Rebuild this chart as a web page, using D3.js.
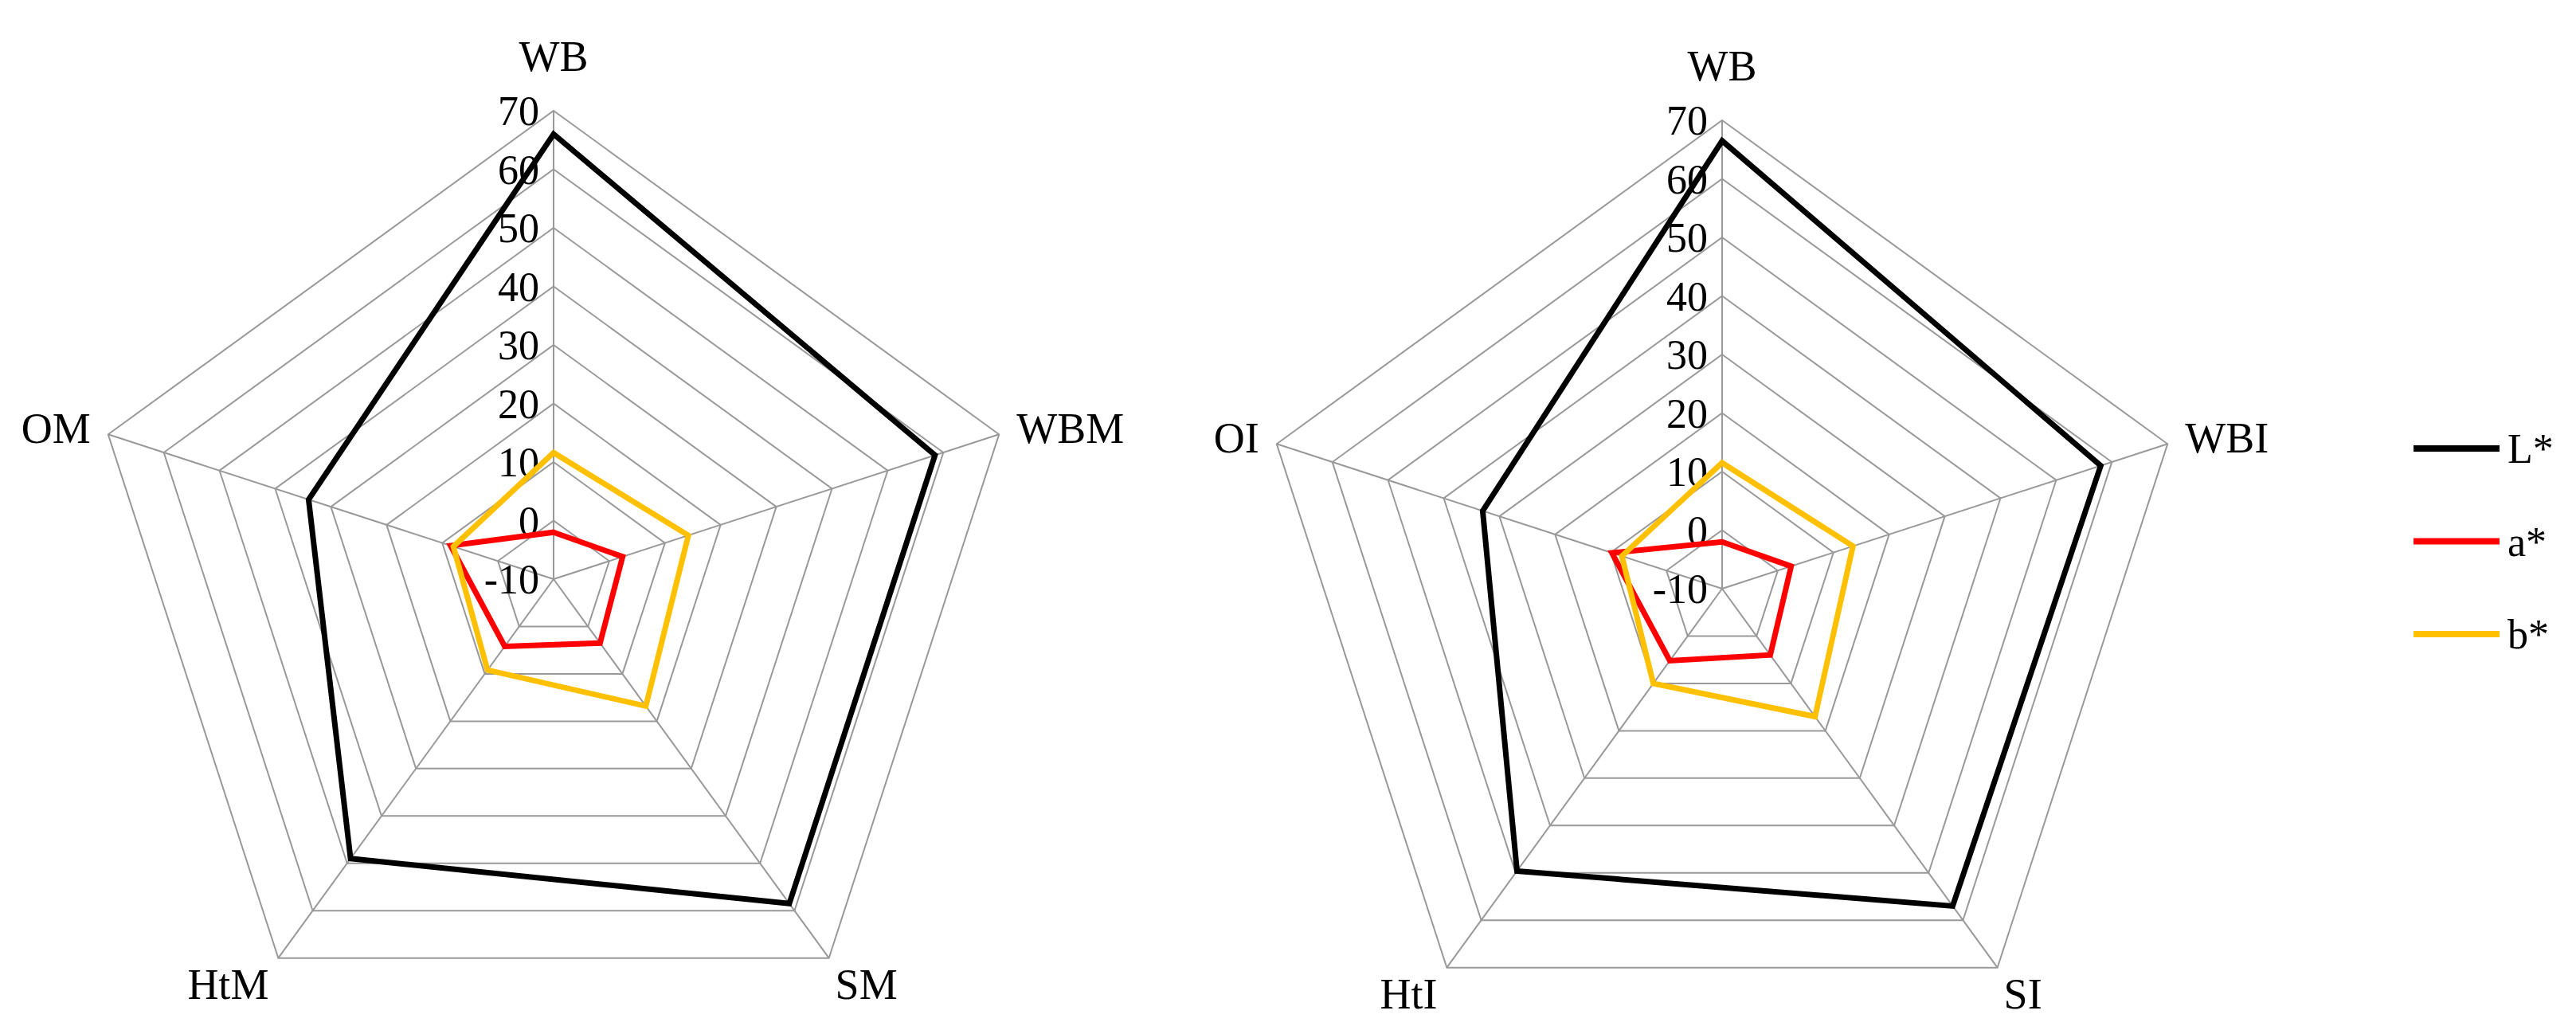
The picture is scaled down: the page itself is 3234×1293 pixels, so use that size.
<!DOCTYPE html>
<html>
<head>
<meta charset="utf-8">
<script src="https://cdn.jsdelivr.net/npm/d3@7"></script>
<style>
  body { margin: 0; background: #fff; }
  text { font-family: "Liberation Serif", "DejaVu Serif", serif; fill: #000; }
</style>
</head>
<body>
<div id="chart"></div>
<script>
// data
const leftAxes = ["WB", "WBM", "SM", "HtM", "OM"];
const rightAxes = ["WB", "WBI", "SI", "HtI", "OI"];
const seriesNames = ["L*", "a*", "b*"];
const seriesColors = ["#000000", "#ff0000", "#ffc000"];
const leftL = [66, 58.5, 58.5, 49, 34];
const leftA = [-2, 2.4, 3.5, 4.2, 8.5];
const leftB = [11.6, 14.2, 16.8, 9.2, 8];
const rightL = [66.5, 58, 57, 49.6, 33];
const rightA = [-2, 2.4, 4, 5.2, 9.8];
const rightB = [11.5, 13.5, 17, 10, 8];
const ticks = [-10, 0, 10, 20, 30, 40, 50, 60, 70];

const W = 3234, H = 1293;
const svg = d3.select("#chart").append("svg")
    .attr("width", W).attr("height", H);

function radar(cx, cy, axes, series) {
  const R = 588;
  const r = d3.scaleLinear().domain([-10, 70]).range([0, R]);
  const ang = d3.scaleLinear().domain([0, axes.length]).range([0, 2 * Math.PI]);
  const g = svg.append("g").attr("transform", "translate(" + cx + "," + cy + ")");
  const pt = (v, i) => [r(v) * Math.sin(ang(i)), -r(v) * Math.cos(ang(i))];

  // rings
  ticks.slice(1).forEach(t => {
    g.append("path")
      .attr("d", d3.line()(axes.map((a, i) => pt(t, i))) + "Z")
      .attr("fill", "none").attr("stroke", "#999").attr("stroke-width", 2);
  });
  // spokes
  axes.forEach((a, i) => {
    g.append("line")
      .attr("x1", 0).attr("y1", 0)
      .attr("x2", pt(70, i)[0]).attr("y2", pt(70, i)[1])
      .attr("stroke", "#999").attr("stroke-width", 2);
  });
  // tick labels
  g.selectAll(".tick").data(ticks).enter().append("text")
    .attr("x", -18).attr("y", d => -r(d))
    .attr("dy", "0.35em")
    .attr("text-anchor", "end")
    .attr("font-size", 52)
    .text(d => d);
  // series
  series.forEach((vals, s) => {
    g.append("path")
      .attr("d", d3.line()(vals.map((v, i) => pt(v, i))) + "Z")
      .attr("fill", "none").attr("stroke", seriesColors[s])
      .attr("stroke-width", 7).attr("stroke-linejoin", "miter");
  });
  // axis labels
  axes.forEach((a, i) => {
    const p = pt(70, i);
    const t = g.append("text").attr("font-size", 54).text(a);
    if (i === 0) t.attr("x", 0).attr("y", p[1] - 50).attr("text-anchor", "middle");
    else if (i === 1) t.attr("x", p[0] + 22).attr("y", p[1]).attr("dy", "0.2em");
    else if (i === 2) t.attr("x", p[0] + 8).attr("y", p[1] + 32).attr("dy", "0.35em");
    else if (i === 3) t.attr("x", p[0] - 12).attr("y", p[1] + 32).attr("dy", "0.35em").attr("text-anchor", "end");
    else t.attr("x", p[0] - 22).attr("y", p[1]).attr("dy", "0.2em").attr("text-anchor", "end");
  });
}

radar(695, 727, leftAxes, [leftL, leftA, leftB]);
radar(2162, 739, rightAxes, [rightL, rightA, rightB]);

// legend
const ly = d3.scalePoint().domain(seriesNames).range([563, 796]);
const leg = svg.append("g");
seriesNames.forEach((n, s) => {
  leg.append("line").attr("x1", 3030).attr("x2", 3138)
    .attr("y1", ly(n)).attr("y2", ly(n))
    .attr("stroke", seriesColors[s]).attr("stroke-width", 8);
  leg.append("text").attr("x", 3148).attr("y", ly(n)).attr("dy", "0.35em")
    .attr("font-size", 52).text(n);
});
</script>
</body>
</html>
